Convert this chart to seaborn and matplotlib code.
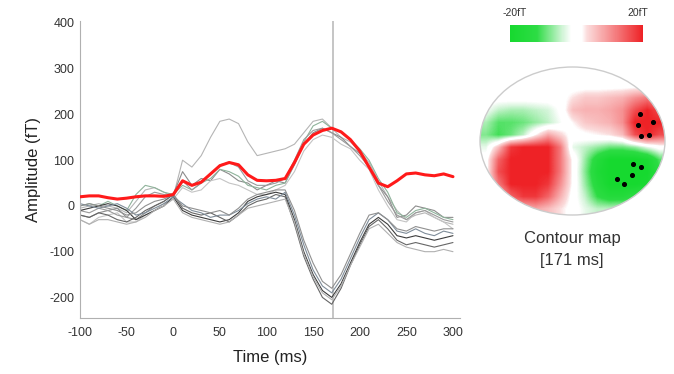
import matplotlib
matplotlib.use("Agg")
import numpy as np
import pandas as pd
import matplotlib.pyplot as plt
import matplotlib.colors as mcolors
from matplotlib.cm import ScalarMappable
from matplotlib.patches import Ellipse
import seaborn as sns

# ---- data ----
TIME = list(range(-100, 301, 10))

RED_MEAN = [20, 22, 22, 18, 15, 17, 20, 22, 22, 21, 25,
            55, 45, 52, 70, 88, 95, 90, 68, 56, 55,
            56, 60, 95, 135, 155, 165, 170, 162, 145, 120,
            85, 50, 42, 55, 70, 72, 68, 66, 70, 64]

P1 = [-5, 0, 5, 0, -5, -15, 10, 35, 40, 30, 20,
      100, 85, 110, 150, 185, 190, 180, 140, 110, 115,
      120, 125, 135, 160, 185, 190, 170, 150, 140, 120,
      95, 55, 20, -10, -30, -20, -15, -25, -35, -40]
P2 = [-20, -25, -15, -10, -5, -25, -30, -15, 0, 10, 25,
      75, 45, 60, 55, 80, 70, 55, 50, 35, 45,
      55, 50, 90, 135, 160, 170, 160, 150, 130, 115,
      85, 45, 20, -25, -20, 0, -5, -10, -25, -25]
P3 = [0, 5, 0, 10, 0, -10, 25, 45, 40, 30, 25,
      45, 35, 50, 60, 80, 75, 65, 45, 40, 35,
      45, 50, 95, 140, 175, 185, 170, 160, 145, 125,
      100, 60, 30, -15, -25, -10, -5, -15, -25, -30]
P4 = [-30, -40, -25, -20, -15, -35, -35, -20, -10, 5, 15,
      40, 30, 35, 55, 60, 50, 45, 35, 25, 25,
      35, 45, 75, 120, 145, 155, 150, 135, 125, 100,
      80, 35, 0, -30, -35, -15, -10, -25, -35, -50]
P5 = [-10, -15, -5, -10, -20, -25, -5, 20, 30, 25, 20,
      55, 35, 50, 70, 90, 95, 85, 55, 45, 45,
      50, 60, 100, 145, 165, 170, 160, 145, 130, 110,
      85, 45, 10, -20, -30, -15, -10, -20, -30, -35]
N1 = [-10, -5, 0, 5, 0, -10, -30, -20, -10, 0, 20,
      -10, -20, -25, -30, -35, -30, -15, 10, 20, 25,
      30, 25, -30, -100, -150, -185, -200, -170, -125, -80,
      -40, -25, -40, -65, -70, -65, -70, -75, -70, -65]
N2 = [-20, -25, -15, -20, -30, -35, -25, -10, 0, 10, 25,
      -5, -15, -20, -15, -25, -35, -20, 0, 10, 15,
      25, 20, -40, -110, -160, -200, -215, -180, -130, -85,
      -45, -30, -50, -75, -85, -80, -85, -90, -85, -80]
N3 = [5, 0, -5, 0, 5, -5, -20, -15, -5, 5, 20,
      5, -10, -15, -25, -20, -20, -10, 5, 15, 20,
      15, 30, -20, -85, -140, -175, -190, -160, -115, -70,
      -30, -15, -30, -55, -60, -50, -60, -65, -55, -60]
N4 = [-30, -40, -30, -30, -35, -40, -35, -25, -10, 0, 15,
      -15, -25, -30, -35, -40, -35, -20, -5, 0, 5,
      10, 15, -35, -105, -155, -190, -205, -175, -130, -90,
      -50, -40, -60, -80, -90, -95, -100, -100, -95, -100]
N5 = [0, 5, 0, -5, -10, -20, -15, 0, 10, 15, 25,
      0, -5, -10, -15, -10, -20, -5, 15, 25, 30,
      35, 35, -10, -75, -125, -165, -180, -150, -105, -60,
      -20, -15, -30, -50, -55, -45, -50, -55, -50, -50]

TRACES = {"P1": P1, "P2": P2, "P3": P3, "P4": P4, "P5": P5,
          "N1": N1, "N2": N2, "N3": N3, "N4": N4, "N5": N5}
TRACE_COLORS = {"P1": "#b5b5b5", "P2": "#8c8c8c", "P3": "#8fb39b", "P4": "#c4c4c4",
                "P5": "#9a9a9a", "N1": "#3c3c3c", "N2": "#666666", "N3": "#7e8c99",
                "N4": "#b0b0b0", "N5": "#909090"}

MARK_TIME = 171

# field map at 171 ms (fT), rows top->bottom, cols left->right
MAP_VALUES = [
    [0, 0, 0, 0, 0, 0, 0, 0, 0, 0, 0, 0, 0, 0, 0],
    [0, 0, 0, 0, 0, 0, 0, 0, 0, 0, 0, 0, 0, 0, 0],
    [0, 0, 0, 0, 0, 0, 0, 3, 5, 5, 6, 7, 10, 12, 8],
    [-2, -5, -6, -6, -5, -4, -1, 6, 7, 7, 8, 10, 16, 20, 16],
    [-6, -10, -10, -9, -7, -5, -2, 2, 5, 6, 7, 10, 20, 20, 20],
    [-8, -11, -9, -5, 2, 8, 4, 0, 1, 2, 3, 6, 16, 20, 16],
    [-3, 6, 18, 20, 20, 20, 12, -3, -5, -7, -9, -9, -7, -3, 0],
    [0, 14, 20, 20, 20, 20, 12, 1, -7, -15, -20, -20, -20, -18, -10],
    [0, 16, 20, 20, 20, 20, 12, 1, -8, -17, -20, -20, -20, -20, -12],
    [0, 12, 20, 20, 20, 18, 10, 1, -7, -15, -20, -20, -20, -18, -8],
    [0, 4, 14, 18, 18, 14, 7, 0, -5, -12, -15, -15, -12, -8, -2],
    [0, 0, 4, 6, 8, 6, 3, 0, -3, -5, -5, -4, -2, 0, 0],
]
SENSOR_X = [640, 638, 653, 641, 649, 633, 641, 632, 617, 624]
SENSOR_Y = [114, 125, 122, 136, 135, 164, 167, 175, 179, 184]

# ---- style ----
sns.set_style("white")
plt.rcParams["font.family"] = ["Liberation Sans", "DejaVu Sans"]
plt.rcParams["axes.unicode_minus"] = False

W, H = 674, 374
fig = plt.figure(figsize=(W / 100, H / 100), dpi=100)

# ---- waveform panel ----
ax = fig.add_axes([80 / W, 1 - 318 / H, 379.5 / W, 297.3 / H])

df = pd.DataFrame([(name, t, v) for name, vals in TRACES.items()
                   for t, v in zip(TIME, vals)], columns=["trace", "time", "amp"])
sns.lineplot(data=df, x="time", y="amp", hue="trace", palette=TRACE_COLORS,
             estimator=None, lw=0.8, legend=False, ax=ax)
ax.axvline(MARK_TIME, color="#c0c0c0", lw=1.3, zorder=1)
sns.lineplot(x=TIME, y=RED_MEAN, color="#ff1a1a", lw=2.2, ax=ax, zorder=5)

ax.set_xlim(-100, 307)
ax.set_ylim(-245, 405)
ax.set_xticks(range(-100, 301, 50))
ax.set_yticks(range(-200, 401, 100))
sns.despine(ax=ax)
for s in ("left", "bottom"):
    ax.spines[s].set_color("#b0b0b0")
    ax.spines[s].set_linewidth(0.8)
ax.tick_params(axis="both", length=2.5, width=0.8, color="#b0b0b0",
               labelsize=9, labelcolor="#333333")
ax.tick_params(axis="x", pad=4)
ax.tick_params(axis="y", pad=1.5)
ax.set_xlabel("Time (ms)", fontsize=12, color="#222222", labelpad=8)
ax.set_ylabel("Amplitude (fT)", fontsize=12, color="#222222", labelpad=6)

# ---- contour map ----
cmap = mcolors.LinearSegmentedColormap.from_list(
    "gwr", [(0.0, "#16d92f"), (0.2, "#2ddc44"), (0.4, "#d6f5db"),
            (0.46, "#ffffff"), (0.54, "#ffffff"), (0.58, "#fbdcdc"),
            (1.0, "#ee2226")])

axm = fig.add_axes([478 / W, 1 - 220 / H, 190 / W, 160 / H])
axm.set_xlim(478, 668)
axm.set_ylim(220, 60)
axm.axis("off")
im = axm.imshow(np.array(MAP_VALUES), cmap=cmap, vmin=-20, vmax=20,
                extent=(480, 665, 215, 67), origin="upper",
                interpolation="bilinear", aspect="auto")
head = Ellipse((572.5, 141), 185, 148, facecolor="none",
               edgecolor="#cccccc", lw=1.0, transform=axm.transData)
axm.add_patch(head)
im.set_clip_path(head)
axm.scatter(SENSOR_X, SENSOR_Y, s=7, color="black", zorder=4)

# ---- colour scale ----
axc = fig.add_axes([510 / W, 1 - 42 / H, 133 / W, 17 / H])
cb = fig.colorbar(ScalarMappable(norm=mcolors.Normalize(-20, 20), cmap=cmap),
                  cax=axc, orientation="horizontal")
cb.outline.set_visible(False)
cb.set_ticks([])
fig.text(515 / W, 1 - 13 / H, "-20fT", fontsize=7.5, color="#333333",
         ha="center", va="center")
fig.text(638 / W, 1 - 13 / H, "20fT", fontsize=7.5, color="#333333",
         ha="center", va="center")

fig.text(572 / W, 1 - 238 / H, "Contour map", fontsize=12, color="#333333",
         ha="center", va="center")
fig.text(572 / W, 1 - 260 / H, "[171 ms]", fontsize=12, color="#333333",
         ha="center", va="center")

fig.savefig("out.png", dpi=100)
